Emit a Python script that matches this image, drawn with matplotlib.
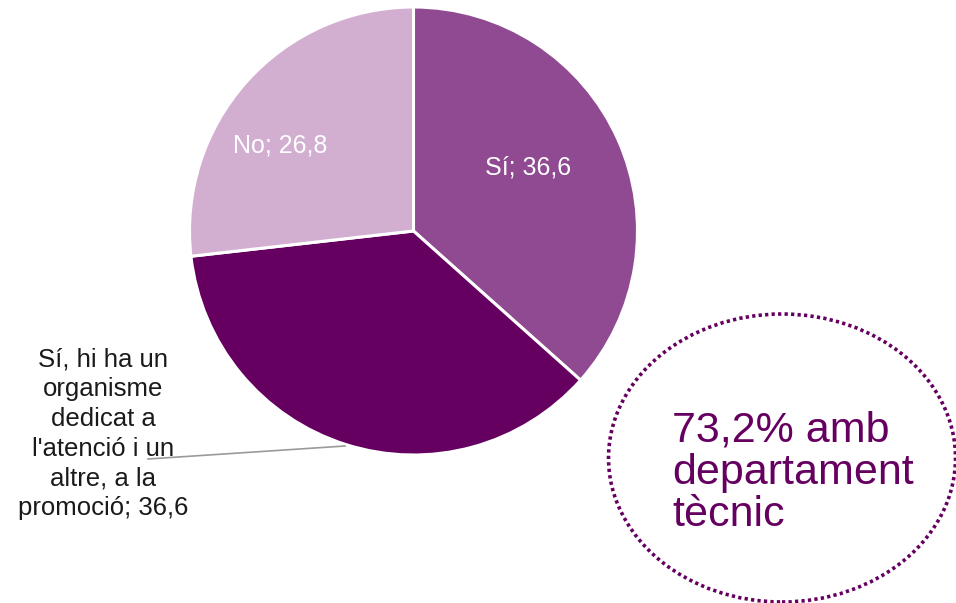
import matplotlib
matplotlib.use("Agg")
import matplotlib.pyplot as plt
from matplotlib.patches import Ellipse

# Survey shares (%)
categories = ["Sí", "Sí, hi ha un organisme dedicat a l'atenció i un altre, a la promoció", "No"]
values = [36.6, 36.6, 26.8]
colors = ["#8F4A91", "#650060", "#D2AFD0"]
summary_text = "73,2% amb\ndepartament\ntècnic"

W, H = 956, 603
fig = plt.figure(figsize=(W / 100, H / 100), dpi=100)
ax = fig.add_axes([0, 0, 1, 1])

def fmt(v):
    return f"{v:.1f}".replace(".", ",")

cx, cy, r = 413.5, H - 231, 224
ax.pie(values, colors=colors, startangle=90, counterclock=False,
       center=(cx, cy), radius=r, frame=True,
       wedgeprops=dict(edgecolor="white", linewidth=2.2))
ax.set_xlim(0, W)
ax.set_ylim(0, H)
ax.axis("off")

font = "Liberation Sans"
ax.text(528, H - 167, f"{categories[0]}; {fmt(values[0])}", color="white",
        fontsize=18, family=font, ha="center", va="center")
ax.text(280, H - 145, f"{categories[2]}; {fmt(values[2])}", color="white",
        fontsize=18, family=font, ha="center", va="center")

long_label = "Sí, hi ha un\norganisme\ndedicat a\nl'atenció i un\naltre, a la\npromoció; " + fmt(values[1])
ax.text(103, H - 434, long_label, color="#1a1a1a", fontsize=18.5, family=font,
        ha="center", va="center", linespacing=1.3)
ax.plot([148, 345], [H - 459, H - 446], color="#9a9a9a", lw=1.2)

ell = Ellipse((782, H - 458), 347, 288, fill=False, edgecolor="#650060",
              linewidth=2.6, linestyle=(0, (0.9, 0.9)))
ax.add_patch(ell)
ax.text(672, H - 473, summary_text, color="#650060", fontsize=31, family=font,
        ha="left", va="center", linespacing=1.08)

fig.savefig("out.png", dpi=100)
